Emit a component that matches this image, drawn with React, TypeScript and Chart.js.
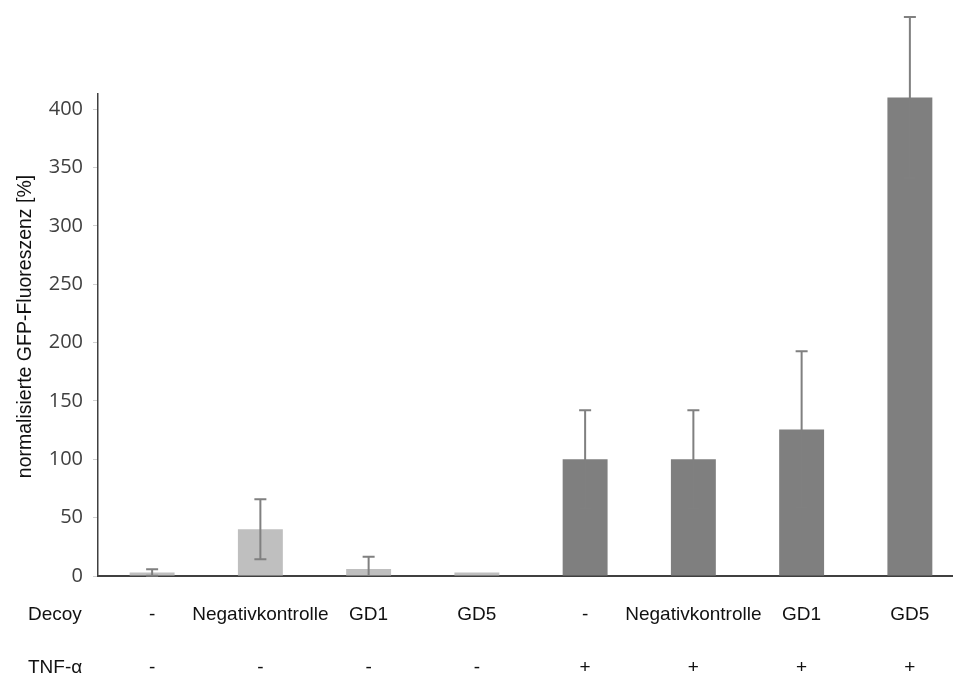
import React, { useEffect, useRef } from "react";
import { Chart, registerables } from "chart.js";

Chart.register(...registerables);

// ---- data ----
const decoyLabels = ["-", "Negativkontrolle", "GD1", "GD5", "-", "Negativkontrolle", "GD1", "GD5"];
const tnfLabels = ["-", "-", "-", "-", "+", "+", "+", "+"];
const meanValues = [3, 40, 6, 3, 100, 100, 125.5, 410];
const errorValues = [2.7, 25.7, 10.5, 0, 42, 42, 67, 69];
const yTicks = [0, 50, 100, 150, 200, 250, 300, 350, 400];
const rowTitles = ["Decoy", "TNF-α"];
const yTitle = "normalisierte GFP-Fluoreszenz [%]";

const LIGHT = "#bfbfbf";
const DARK = "#7f7f7f";
const ERR = "#808080";
const TEXT = "#111111";
const ARIAL = "'Liberation Sans', Arial, sans-serif";

const errorBarPlugin = {
  id: "errorBars",
  afterDatasetsDraw(chart: any) {
    const { ctx } = chart;
    const meta = chart.getDatasetMeta(0);
    const y = chart.scales.y;
    ctx.save();
    ctx.strokeStyle = ERR;
    ctx.lineWidth = 2;
    meta.data.forEach((bar: any, i: number) => {
      const e = errorValues[i];
      if (!e) return;
      const v = meanValues[i];
      const lo = Math.max(0, v - e);
      const top = y.getPixelForValue(v + e);
      const bot = y.getPixelForValue(lo);
      const x = bar.x;
      ctx.beginPath();
      ctx.moveTo(x, top);
      ctx.lineTo(x, bot);
      ctx.moveTo(x - 6, top);
      ctx.lineTo(x + 6, top);
      if (lo > 0) {
        ctx.moveTo(x - 6, bot);
        ctx.lineTo(x + 6, bot);
      }
      ctx.stroke();
    });
    ctx.restore();
  },
};

const labelPlugin = {
  id: "categoryLabels",
  afterDraw(chart: any) {
    const { ctx } = chart;
    const xs = chart.scales.x;
    const base = chart.chartArea.bottom;
    const row1 = base + 44;
    const row2 = base + 97;
    ctx.save();
    ctx.fillStyle = TEXT;
    ctx.font = `19px ${ARIAL}`;
    ctx.textBaseline = "alphabetic";
    ctx.textAlign = "center";
    decoyLabels.forEach((lab, i) => {
      const x = xs.getPixelForValue(i);
      ctx.fillText(lab, x, row1);
      ctx.fillText(tnfLabels[i], x, row2);
    });
    ctx.textAlign = "left";
    ctx.fillText(rowTitles[0], 28, row1);
    ctx.fillText(rowTitles[1], 28, row2);

    // y-axis title
    ctx.translate(31, 326.5);
    ctx.rotate(-Math.PI / 2);
    ctx.textAlign = "center";
    ctx.font = `19.5px ${ARIAL}`;
    ctx.fillText(yTitle, 0, 0);
    ctx.restore();
  },
};

export default function App() {
  const ref = useRef<HTMLCanvasElement | null>(null);

  useEffect(() => {
    document.body.style.margin = "0";
    document.body.style.overflow = "hidden";
    const canvas = ref.current;
    if (!canvas) return;
    const chart = new Chart(canvas, {
      type: "bar",
      data: {
        labels: decoyLabels.map((d, i) => `${d} / ${tnfLabels[i]} #${i}`),
        datasets: [
          {
            data: meanValues,
            backgroundColor: tnfLabels.map((t) => (t === "+" ? DARK : LIGHT)),
            borderWidth: 0,
            barPercentage: 0.415,
            categoryPercentage: 1,
          },
        ],
      },
      options: {
        responsive: false,
        animation: false,
        layout: { padding: { top: 94, right: 16, left: 0, bottom: 0 } },
        plugins: {
          legend: { display: false },
          tooltip: { enabled: false },
        },
        scales: {
          x: {
            grid: { display: false, drawTicks: false },
            border: { display: true, color: "#404040", width: 2 },
            ticks: { display: false },
            afterFit: (s: any) => {
              s.height = 102;
            },
          },
          y: {
            min: 0,
            max: 413,
            afterBuildTicks: (s: any) => {
              s.ticks = yTicks.map((v) => ({ value: v }));
            },
            ticks: {
              font: { family: "'Open Sans', sans-serif", size: 20 },
              color: "#404040",
              padding: 10,
            },
            grid: {
              drawOnChartArea: false,
              drawTicks: true,
              tickLength: 5,
              tickColor: "#d0d0d0",
              tickWidth: 1,
            },
            border: { display: true, color: "#404040", width: 1.5 },
            afterFit: (s: any) => {
              s.width = 98;
            },
          },
        },
      } as any,
      plugins: [errorBarPlugin, labelPlugin],
    });
    return () => chart.destroy();
  }, []);

  return (
    <div
      style={{
        position: "fixed",
        left: 0,
        top: 0,
        width: 953,
        height: 678,
        overflow: "hidden",
        background: "#ffffff",
      }}
    >
      <canvas ref={ref} width={980} height={678} style={{ display: "block" }} />
    </div>
  );
}
